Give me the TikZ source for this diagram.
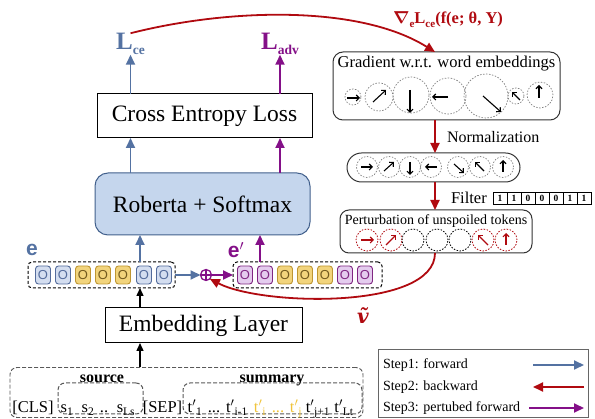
\documentclass[tikz,border=0pt]{standalone}
\usepackage{amsmath,bm}
\usepackage{fontspec}
\setmainfont{Liberation Serif}
\newfontfamily\tokfont{Liberation Sans}
\newfontfamily\djserif{DejaVu Serif}
\usetikzlibrary{arrows.meta,calc}
\definecolor{fwd}{RGB}{84,114,162}
\definecolor{bwd}{RGB}{176,10,16}
\definecolor{adv}{RGB}{132,16,136}
\definecolor{robfill}{RGB}{197,214,237}
\definecolor{robline}{RGB}{66,96,140}
\definecolor{tbfill}{RGB}{212,222,240}
\definecolor{tbline}{RGB}{84,108,156}
\definecolor{tyfill}{RGB}{242,212,124}
\definecolor{tyline}{RGB}{190,150,50}
\definecolor{tpfill}{RGB}{228,204,238}
\definecolor{tpline}{RGB}{128,40,130}
\definecolor{ytext}{RGB}{240,196,60}
\begin{document}
\begin{tikzpicture}[x=1pt,y=-1pt,
  every node/.style={inner sep=0pt, outer sep=0pt},
  bigbox/.style={draw, line width=1pt, font=\fontsize{23.5}{26}\selectfont},
  fwdarr/.style={draw=fwd, line width=1.8pt, -{Triangle[length=10pt,width=9pt]}},
  bwdarr/.style={draw=bwd, line width=1.8pt, -{Triangle[length=10pt,width=9pt]}},
  advarr/.style={draw=adv, line width=1.8pt, -{Triangle[length=10pt,width=9pt]}},
  blkarr/.style={draw=black, line width=1.4pt, -{Triangle[length=8pt,width=7pt]}},
  tok/.style={rounded corners=3pt, minimum width=15pt, minimum height=18pt, line width=0.9pt, font=\tokfont\fontsize{13}{13}\selectfont},
  tokb/.style={tok, fill=tbfill, draw=tbline, text=tbline},
  toky/.style={tok, fill=tyfill, draw=tyline, text=tyline!60!black},
  tokp/.style={tok, fill=tpfill, draw=tpline, text=tpline},
  dcirc/.style={circle, draw=gray, dash pattern=on 1.5pt off 1.5pt, line width=0.7pt, inner sep=0pt},
  rcirc/.style={circle, draw=bwd, dash pattern=on 1.5pt off 1.5pt, line width=0.8pt, inner sep=0pt, minimum size=22pt},
  kcirc/.style={circle, draw=black, dash pattern=on 1.5pt off 1.5pt, line width=0.8pt, inner sep=0pt, minimum size=22pt},
  garr/.style={line width=1.1pt, -{Straight Barb[length=3pt,width=6pt]}},
  dbox/.style={draw, dash pattern=on 3pt off 2pt, line width=1pt, rounded corners=4pt},
  ibox/.style={draw=black!65, dash pattern=on 4pt off 2pt, line width=0.9pt, rounded corners=7pt},
  rbox/.style={draw=black!80, line width=1pt},
  intext/.style={font=\fontsize{16.5}{18}\selectfont, anchor=base},
  bit/.style={draw, line width=0.8pt, minimum width=14pt, minimum height=12pt, font=\fontsize{9.5}{10}\selectfont\bfseries},
  legtext/.style={font=\fontsize{14}{16}\selectfont, anchor=west},
]
\useasboundingbox (0,0) rectangle (595,419);
\coordinate (rx) at (435,0);
\coordinate (xa) at (140,0);

% left column boxes
\node[bigbox, minimum width=215pt, minimum height=44pt] (ce) at (204.5,116) {Cross Entropy Loss};
\node[bigbox, draw=robline, fill=robfill, rounded corners=13pt, minimum width=215pt, minimum height=62pt] (rob) at (202.5,204) {Roberta + Softmax};
\node[bigbox, minimum width=197pt, minimum height=35pt] (emb) at (203.5,325.5) {Embedding Layer};

% loss labels
\node[text=fwd, font=\fontsize{25}{25}\selectfont\bfseries] (lce) at (130.5,44) {L\raisebox{-5pt}{\fontsize{13.5}{13.5}\selectfont ce}};
\node[text=adv, font=\fontsize{25}{25}\selectfont\bfseries] (ladv) at (280,44) {L\raisebox{-5pt}{\fontsize{13.5}{13.5}\selectfont adv}};

\draw[fwdarr] (ce.north -| lce) -- (lce.south);
\draw[advarr] (ce.north -| 280,0) -- (ladv.south -| 280,0);
\draw[fwdarr] (rob.north -| lce) -- (ce.south -| lce);
\draw[advarr] (rob.north -| 280,0) -- (ce.south -| 280,0);

% embeddings
\node[dbox, minimum width=147pt, minimum height=26pt] (ebox) at (101.5,275) {};
\node[dbox, minimum width=149pt, minimum height=26pt] (epbox) at (307.5,275) {};
\node[tokb] (e1) at (43,275) {O};
\node[tokb] (e2) at (63,275) {O};
\node[toky] (e3) at (83,275) {O};
\node[toky] (e4) at (103,275) {O};
\node[toky] (e5) at (123,275) {O};
\node[tokb] (e6) at (144,275) {O};
\node[tokb] (e7) at (164,275) {O};
\node[tokp] (p1) at (245,275) {O};
\node[tokp] (p2) at (265,275) {O};
\node[toky] (p3) at (285,275) {O};
\node[toky] (p4) at (305,275) {O};
\node[toky] (p5) at (325,275) {O};
\node[tokp] (p6) at (345,275) {O};
\node[tokp] (p7) at (365,275) {O};
\node[text=fwd, font=\tokfont\fontsize{21}{21}\selectfont\bfseries] (elab) at (32,250) {e};
\node[text=adv, font=\tokfont\fontsize{21}{21}\selectfont\bfseries] (eplab) at (236,250) {e$'$};

\node[circle, draw=adv, line width=1.3pt, minimum size=11pt] (op) at (206,275) {};
\draw[adv, line width=1.3pt] (op.north) -- (op.south) (op.west) -- (op.east);

\draw[fwdarr] (ebox.east) -- (op.west);
\draw[advarr] (op.east) -- (epbox.west);
\draw[fwdarr] (ebox.north -| xa) -- (rob.south -| xa);
\draw[advarr] (epbox.north -| 260,0) -- (rob.south -| 260,0);
\draw[blkarr] (emb.north -| xa) -- (ebox.south -| xa);

% input
\node[ibox, minimum width=353pt, minimum height=50pt] (inbox) at (186.5,392.5) {};
\node[dbox, draw=black!65, dash pattern=on 4pt off 2pt, rounded corners=7pt, minimum width=85pt, minimum height=31pt] (srcbox) at (100.5,398.5) {};
\node[dbox, draw=black!65, dash pattern=on 4pt off 2pt, rounded corners=7pt, minimum width=179pt, minimum height=31pt] (sumbox) at (272.5,398.5) {};
\node[font=\fontsize{16}{16}\selectfont\bfseries, anchor=base] (src) at (102,383) {source};
\node[font=\fontsize{16}{16}\selectfont\bfseries, anchor=base] (sum) at (272,383) {summary};
\node[intext] (cls) at (33,413) {[CLS]};
\node[intext] (s1) at (67,413) {s\textsubscript{1}};
\node[intext] (s2) at (88,413) {s\textsubscript{2}};
\node[intext] (sd) at (104,413) {..};
\node[intext] (sl) at (126,413) {s\textsubscript{Ls}};
\node[intext] (sep) at (162.5,413) {[SEP]};
\node[intext] (t1) at (195,413) {t$'$\textsubscript{1}};
\node[intext] (td1) at (214,413) {...};
\node[intext] (ti1) at (237,413) {t$'$\textsubscript{i-1}};
\node[intext, text=ytext] (ti) at (260,413) {t$'$\textsubscript{i}};
\node[intext, text=ytext] (td2) at (278,413) {...};
\node[intext, text=ytext] (tj) at (296,413) {t$'$\textsubscript{j}};
\node[intext] (tj1) at (318,413) {t$'$\textsubscript{j+1}};
\node[intext] (tl) at (344,413) {t$'$\textsubscript{Lt}};
\draw[blkarr] (inbox.north -| xa) -- (emb.south -| xa);

% right column
\node[rbox, rounded corners=10pt, minimum width=227pt, minimum height=68pt] (grad) at (446.5,86) {};
\node[font=\fontsize{16.5}{18}\selectfont] (gt) at (446.5,64) {Gradient w.r.t. word embeddings};
\node[dcirc, minimum size=16pt] (g1) at (353,97) {};
\node[dcirc, minimum size=28pt] (g2) at (379,97) {};
\node[dcirc, minimum size=36pt] (g3) at (411,95) {};
\node[dcirc, minimum size=36pt] (g4) at (448,96) {};
\node[dcirc, minimum size=44pt] (g5) at (486,96) {};
\node[dcirc, minimum size=16pt] (g6) at (516,96) {};
\node[dcirc, minimum size=26pt] (g7) at (540,95) {};
\draw[garr] ($(g1)+(-6,1)$) -- ++(13,0);
\draw[garr] ($(g2)+(-6,5)$) -- ++(13,-12);
\draw[garr] ($(g3)+(-1,-5)$) -- ++(0,23);
\draw[garr] ($(g4)+(0,1)$) -- ++(-16,0);
\draw[garr] ($(g5)+(-3,0)$) -- ++(18,16);
\draw[garr] ($(g6)+(4,4)$) -- ++(-8,-8);
\draw[garr] ($(g7)+(-1,3)$) -- ++(0,-13);

\node[rbox, rounded corners=14.5pt, minimum width=173pt, minimum height=29pt] (norm) at (433.5,167.5) {};
\foreach \n/\x in {n1/367,n2/389,n3/410,n4/431,n5/458,n6/480,n7/503}{
  \node[dcirc, minimum size=21pt] (\n) at (\x,167) {};
}
\draw[garr] ($(n1)+(-6,0)$) -- ++(12,0);
\draw[garr] ($(n2)+(-5,4)$) -- ++(10,-9);
\draw[garr] ($(n3)+(0,-5)$) -- ++(0,13);
\draw[garr] ($(n4)+(6,0)$) -- ++(-12,0);
\draw[garr] ($(n5)+(-4,-3)$) -- ++(10,9);
\draw[garr] ($(n6)+(4,4)$) -- ++(-9,-9);
\draw[garr] ($(n7)+(0,5)$) -- ++(0,-12);

\node[rbox, rounded corners=9pt, minimum width=192pt, minimum height=43pt] (pert) at (436,231.5) {};
\node[font=\fontsize{14}{16}\selectfont] (pt) at (436,221) {Perturbation of unspoiled tokens};
\node[rcirc] (c1) at (367,240) {};
\node[rcirc] (c2) at (391,240) {};
\node[kcirc] (c3) at (413,240) {};
\node[kcirc] (c4) at (437,240) {};
\node[kcirc] (c5) at (460,240) {};
\node[rcirc] (c6) at (483,240) {};
\node[rcirc] (c7) at (506,240) {};
\draw[garr, bwd] ($(c1)+(-6,0)$) -- ++(13,0);
\draw[garr, bwd] ($(c2)+(-5,5)$) -- ++(10,-10);
\draw[garr, bwd] ($(c6)+(5,5)$) -- ++(-10,-10);
\draw[garr, bwd] ($(c7)+(0,5)$) -- ++(0,-12);

\draw[bwdarr] (grad.south -| rx) -- (norm.north -| rx);
\node[font=\fontsize{16}{18}\selectfont, anchor=west] (nl) at (447,137) {Normalization};
\draw[bwdarr] (norm.south -| rx) -- (pert.north -| rx);
\node[font=\fontsize{16.5}{18}\selectfont, anchor=west] (fl) at (451,198) {Filter};
\foreach \b [count=\i from 0] in {1,1,0,0,0,1,1}{
  \node[bit] (b\i) at (500+14*\i,198.5) {\b};
}

% backward curves
\draw[bwdarr] (lce.north) .. controls (230,8) and (360,5) .. (grad.north -| rx);
\node[text=bwd, font=\fontsize{16.5}{18}\selectfont\bfseries] (gl) at (448,20) {$\bm{\nabla}$\raisebox{-4pt}{\fontsize{11}{11}\selectfont e}L\raisebox{-4pt}{\fontsize{11}{11}\selectfont ce}(f(e; θ, Y)};
\draw[bwdarr] (pert.south -| rx) .. controls (435,310) and (262,306) .. (op.south east);
\node[text=bwd, font=\djserif\fontsize{20}{20}\selectfont\bfseries\itshape] (vt) at (363,316) {ṽ};

% legend
\node[draw=black!60, line width=1pt, minimum width=210pt, minimum height=68pt] (leg) at (483,384) {};
\node[legtext] (l1) at (383,365) {Step1: forward};
\node[legtext] (l2) at (383,387) {Step2: backward};
\node[legtext] (l3) at (383,408) {Step3: pertubed forward};
\coordinate (a1s) at (533,365); \coordinate (a1e) at (584,365);
\coordinate (a2s) at (584,387); \coordinate (a2e) at (533,387);
\coordinate (a3s) at (529,408); \coordinate (a3e) at (584,408);
\draw[fwdarr] (a1s) -- (a1e);
\draw[bwdarr] (a2s) -- (a2e);
\draw[advarr] (a3s) -- (a3e);
\end{tikzpicture}
\end{document}
